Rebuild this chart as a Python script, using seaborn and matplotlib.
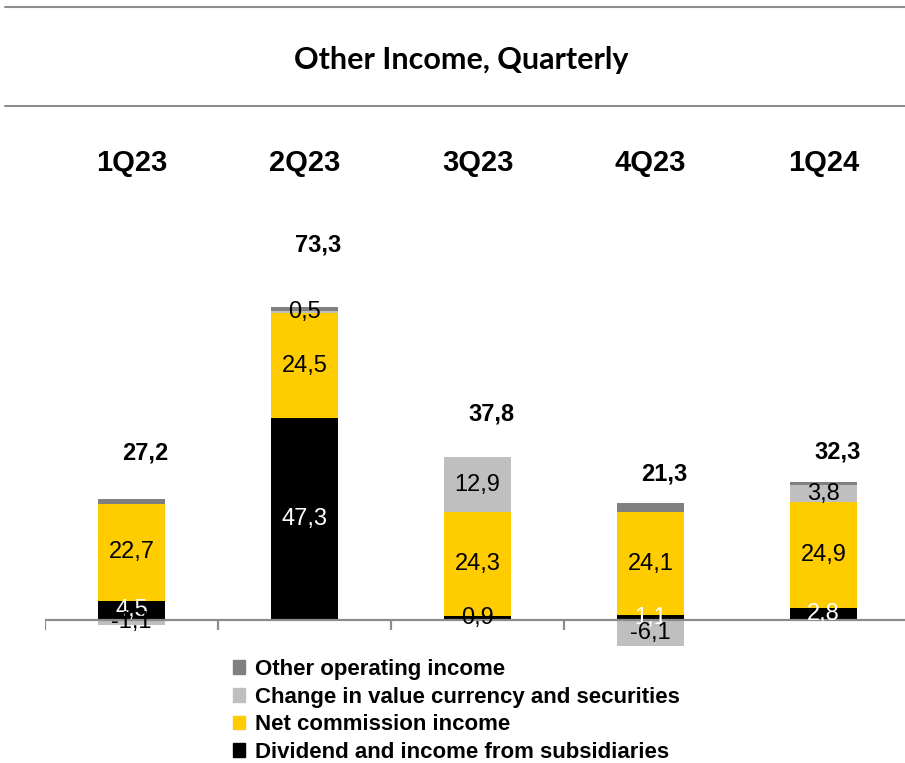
import matplotlib
matplotlib.use("Agg")
import matplotlib.pyplot as plt
from matplotlib.lines import Line2D
from matplotlib.patches import Patch
import numpy as np
import seaborn as sns

quarters = ["1Q23", "2Q23", "3Q23", "4Q23", "1Q24"]
dividend = [4.5, 47.3, 0.9, 1.1, 2.8]
commission = [22.7, 24.5, 24.3, 24.1, 24.9]
change_value = [-1.1, 0.5, 12.9, -6.1, 3.8]
other_income = [1.1, 1.0, -0.3, 2.2, 0.8]
totals = [27.2, 73.3, 37.8, 21.3, 32.3]

series_names = ["Dividend and income from subsidiaries", "Net commission income",
                "Change in value currency and securities", "Other operating income"]
series_colors = ["#000000", "#FFCC00", "#BFBFBF", "#808080"]
label_colors = ["white", "black", "black", None]
total_pad = [10.8, 14.5, 10.2, 6.8, 7.1]

sns.set_theme(style="white")
plt.rcParams["font.family"] = ["Liberation Sans", "DejaVu Sans"]
plt.rcParams["text.color"] = "black"

fig = plt.figure(figsize=(9.05, 7.63), dpi=100)
W, H = 905, 763
# baseline at y=620px, 4.27 px per unit
ax = fig.add_axes([45 / W, 1 - 650 / H, 1 - 45 / W, (650 - 185) / H])
ppu = 4.27
ymin = -(650 - 620) / ppu
ax.set_ylim(ymin, ymin + (650 - 185) / ppu)

pos_base = np.zeros(len(quarters))
neg_base = np.zeros(len(quarters))
series = [dividend, commission, change_value, other_income]
for vals, name, col, lcol in zip(series, series_names, series_colors, label_colors):
    vals = np.array(vals)
    bottoms = np.where(vals >= 0, pos_base, neg_base)
    sns.barplot(x=quarters, y=vals, bottom=bottoms, color=col, saturation=1,
                width=0.39, errorbar=None, linewidth=0, ax=ax)
    if lcol is not None:
        for i, v in enumerate(vals):
            # very thin segments: label sits mostly outside the bar, so dark text
            c = lcol if abs(v) >= 1 else "black"
            ax.text(i, bottoms[i] + v / 2, f"{v:.1f}".replace(".", ","),
                    ha="center", va="center", fontsize=17, color=c, zorder=5)
    pos_base = pos_base + np.where(vals >= 0, vals, 0)
    neg_base = neg_base + np.where(vals < 0, vals, 0)

for i, t in enumerate(totals):
    ax.text(i + 0.08, pos_base[i] + total_pad[i], f"{t:.1f}".replace(".", ","),
            ha="center", va="center", fontsize=17, fontweight="bold", color="black")

ax.set_xlim(-0.5, 4.47)
ax.axhline(0, color="#8C8C8C", lw=1.6, zorder=2.5)
ax.vlines(np.arange(len(quarters) - 1) - 0.5, -10 / ppu, 0, color="#8C8C8C", lw=1.6, zorder=2.5)

ax.xaxis.tick_top()
ax.set_xticks(range(len(quarters)))
ax.set_xticklabels(quarters, fontsize=21, fontweight="bold", color="black")
ax.tick_params(axis="x", length=0, pad=6)
ax.set_yticks([])
ax.set_xlabel("")
ax.set_ylabel("")
for s in ax.spines.values():
    s.set_visible(False)

fig.text(461 / W, 1 - 60 / H, "Other Income, Quarterly", ha="center", va="center",
         fontsize=22, family="Lato", fontweight="bold", color="black")
for yy in (7, 106):
    fig.add_artist(Line2D([5 / W, 1], [1 - yy / H, 1 - yy / H], color="#8C8C8C", lw=1.5))

handles = [Patch(color=c) for c in series_colors[::-1]]
fig.legend(handles, series_names[::-1], loc="upper left", bbox_to_anchor=(233 / W, 1 - 659 / H),
           frameon=False, prop={"size": 16, "weight": "bold"}, handlelength=0.55,
           handleheight=0.55, handletextpad=0.45, labelspacing=0.3, borderpad=0, borderaxespad=0)

fig.savefig("out.png", dpi=100)
